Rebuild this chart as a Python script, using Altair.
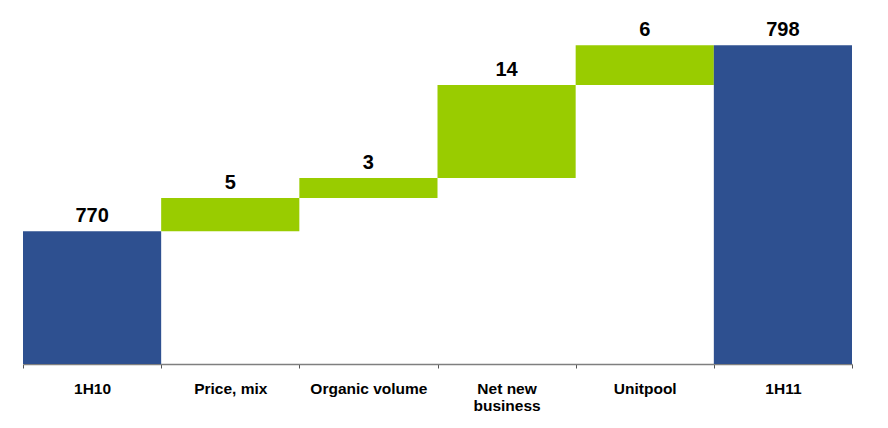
import altair as alt
import pandas as pd

categories = ["1H10", "Price, mix", "Organic volume", "Net new business", "Unitpool", "1H11"]
amounts = [770, 5, 3, 14, 6, 798]
kinds = ["total", "delta", "delta", "delta", "delta", "total"]

y_floor = 750
rows = []
running = 0
for cat, amt, kind in zip(categories, amounts, kinds):
    if kind == "total":
        start, end = y_floor, amt
        running = amt
    else:
        start, end = running, running + amt
        running = end
    rows.append({"category": cat, "amount": amt, "kind": kind,
                 "start": start, "end": end, "label": str(amt)})
df = pd.DataFrame(rows)

x = alt.X("category:N", sort=categories,
          scale=alt.Scale(paddingInner=0, paddingOuter=0),
          axis=alt.Axis(title=None, labelAngle=0, tickBand="extent",
                        domainColor="#7f7f7f", domainWidth=1.5,
                        tickColor="#555555", tickSize=4, tickWidth=1,
                        labelFont="Liberation Sans", labelFontWeight="bold",
                        labelFontSize=15.5, labelColor="#000000",
                        labelPadding=13, labelLineHeight=17,
                        labelExpr="datum.label == 'Net new business' ? ['Net new', 'business'] : datum.label"))
yscale = alt.Scale(domain=[750, 803], nice=False, zero=False)

bars = alt.Chart(df).mark_bar().encode(
    x=x,
    y=alt.Y("start:Q", scale=yscale, axis=None),
    y2="end:Q",
    color=alt.Color("kind:N", scale=alt.Scale(domain=["total", "delta"],
                                              range=["#2E5090", "#99CC00"]),
                    legend=None),
)

labels = alt.Chart(df).mark_text(
    font="Liberation Sans", fontWeight="bold", fontSize=20, color="#000000",
    baseline="alphabetic", dy=-9
).encode(
    x=alt.X("category:N", sort=categories),
    y=alt.Y("end:Q", scale=yscale, axis=None),
    text="label:N",
)

chart = (bars + labels).properties(
    width=829, height=352,
    padding={"left": 15, "top": 4, "right": 28, "bottom": 56},
    autosize=alt.AutoSizeParams(type="none"),
).configure_view(stroke=None)

chart.save("out.html", embed_options={"renderer": "svg", "actions": False})
